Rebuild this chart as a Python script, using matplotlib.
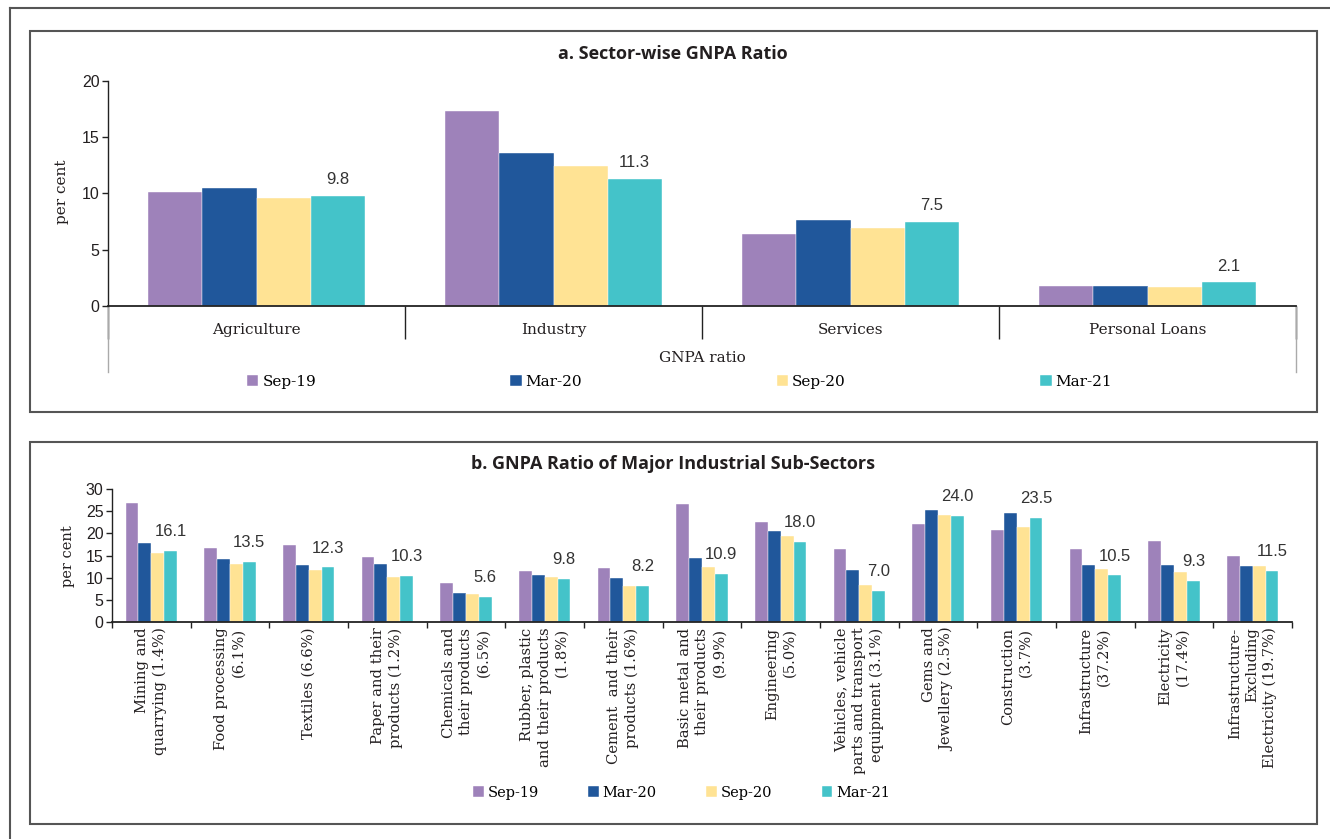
# =========================
# IMPORTS
# =========================
import numpy as np
import matplotlib
matplotlib.use("Agg")
import matplotlib.pyplot as plt
from matplotlib.lines import Line2D
from matplotlib.patches import Rectangle

# =========================
# DATA
# =========================
periods = ["Sep-19", "Mar-20", "Sep-20", "Mar-21"]
colors = ["#9E82BA", "#20579B", "#FFE394", "#44C3C9"]

sectors = ["Agriculture", "Industry", "Services", "Personal Loans"]
sector_sep19 = [10.1, 17.3, 6.4, 1.8]
sector_mar20 = [10.5, 13.6, 7.6, 1.8]
sector_sep20 = [9.6, 12.4, 6.9, 1.7]
sector_mar21 = [9.8, 11.3, 7.5, 2.1]

industries = [
    "Mining and\nquarrying (1.4%)",
    "Food processing\n(6.1%)",
    "Textiles (6.6%)",
    "Paper and their\nproducts (1.2%)",
    "Chemicals and\ntheir products\n(6.5%)",
    "Rubber, plastic\nand their products\n(1.8%)",
    "Cement  and their\nproducts (1.6%)",
    "Basic metal and\ntheir products\n(9.9%)",
    "Engineering\n(5.0%)",
    "Vehicles, vehicle\nparts and transport\nequipment (3.1%)",
    "Gems and\nJewellery (2.5%)",
    "Construction\n(3.7%)",
    "Infrastructure\n(37.2%)",
    "Electricity\n(17.4%)",
    "Infrastructure-\nExcluding\nElectricity (19.7%)",
]
ind_sep19 = [26.9, 16.7, 17.4, 14.6, 8.7, 11.5, 12.1, 26.6, 22.6, 16.4, 22.0, 20.7, 16.5, 18.2, 14.9]
ind_mar20 = [17.8, 14.3, 12.9, 13.1, 6.5, 10.5, 10.0, 14.5, 20.6, 11.8, 25.3, 24.6, 12.8, 12.9, 12.6]
ind_sep20 = [15.6, 13.1, 11.8, 10.1, 6.4, 10.2, 8.2, 12.5, 19.3, 8.3, 24.1, 21.5, 12.0, 11.2, 12.7]
ind_mar21 = [16.1, 13.5, 12.3, 10.3, 5.6, 9.8, 8.2, 10.9, 18.0, 7.0, 24.0, 23.5, 10.5, 9.3, 11.5]

SERIF = "DejaVu Serif"
SANS = "Liberation Sans"
TXT = "#231F20"

W, H = 1330, 839
fig = plt.figure(figsize=(W / 100, H / 100), dpi=100)


def px_box(x0, y0, x1, y1):
    # pixel box (top-left origin) -> figure fraction [l, b, w, h]
    return [x0 / W, 1 - y1 / H, (x1 - x0) / W, (y1 - y0) / H]


# =========================
# FRAMES
# =========================
fig.add_artist(Line2D([10 / W, 10 / W], [0, 1 - 8 / H], color="#555555", lw=1.5))
fig.add_artist(Line2D([10 / W, 1], [1 - 8 / H, 1 - 8 / H], color="#555555", lw=1.5))
for (x0, y0, x1, y1) in [(30, 31, 1317, 412), (30, 442, 1317, 824)]:
    l, b, w, h = px_box(x0, y0, x1, y1)
    fig.add_artist(Rectangle((l, b), w, h, transform=fig.transFigure,
                             fill=False, ec="#555555", lw=1.5))


def draw_bars(ax, series, width):
    x = np.arange(len(series[0]))
    bars = []
    for i, (vals, c) in enumerate(zip(series, colors)):
        b = ax.bar(x + (i - 1.5) * width, vals, width, color=c, label=periods[i],
                   edgecolor="white", linewidth=0.3)
        bars.append(b)
    return x, bars


def style_axes(ax):
    for s in ["top", "right"]:
        ax.spines[s].set_visible(False)
    ax.spines["left"].set_color("#222222")
    ax.spines["bottom"].set_color("#222222")
    ax.spines["left"].set_linewidth(1.0)
    ax.spines["bottom"].set_linewidth(1.3)
    ax.tick_params(axis="y", direction="out", length=4, width=1, color="#222222",
                   labelcolor=TXT, pad=2)
    for t in ax.get_yticklabels():
        t.set_fontfamily(SANS)
        t.set_fontsize(11.5)


# =========================
# PANEL A
# =========================
ax1 = fig.add_axes(px_box(108, 81, 1296, 306))
x1, bars1 = draw_bars(ax1, [sector_sep19, sector_mar20, sector_sep20, sector_mar21], 0.182)
ax1.set_xlim(-0.5, len(sectors) - 0.5)
ax1.set_ylim(0, 20)
ax1.set_yticks([0, 5, 10, 15, 20])
style_axes(ax1)
ax1.set_xticks(x1)
ax1.set_xticklabels(sectors, fontfamily=SERIF, fontsize=11, color=TXT)
ax1.tick_params(axis="x", which="major", length=0, pad=12)
ax1.set_xticks(np.arange(len(sectors) + 1) - 0.5, minor=True)
ax1.tick_params(axis="x", which="minor", length=24, width=1, color="#222222", direction="out")
for xa in [0, 1]:
    ax1.add_line(Line2D([xa, xa], [0, -0.295], transform=ax1.transAxes,
                        color="#aaaaaa", lw=1, clip_on=False))
for xi, v in zip(x1, sector_mar21):
    ax1.annotate(f"{v:.1f}", (xi + 1.5 * 0.182, v), xytext=(0, 11.5),
                 textcoords="offset points", ha="center", va="center",
                 fontfamily=SANS, fontsize=12, color="#333333")
fig.text(673 / W, 1 - 54 / H, "a. Sector-wise GNPA Ratio", ha="center", va="center",
         fontfamily="Open Sans", fontweight="bold", fontsize=13, color=TXT)
fig.text(62 / W, 1 - 192 / H, "per cent", rotation=90, ha="center", va="center",
         fontfamily=SERIF, fontsize=11, color=TXT)
fig.text(702 / W, 1 - 358 / H, "GNPA ratio", ha="center", va="center",
         fontfamily=SERIF, fontsize=11, color=TXT)
fig.legend(handles=bars1, labels=periods, loc="center left", ncol=4, mode="expand",
           bbox_to_anchor=(247 / W, 1 - 382 / H, (1112 - 247) / W, 0.001),
           frameon=False, borderpad=0, borderaxespad=0, handlelength=0.75,
           handleheight=0.75, handletextpad=0.25,
           prop={"family": SERIF, "size": 11})

# =========================
# PANEL B
# =========================
ax2 = fig.add_axes(px_box(112, 489, 1292, 622))
x2, bars2 = draw_bars(ax2, [ind_sep19, ind_mar20, ind_sep20, ind_mar21], 0.164)
ax2.set_xlim(-0.5, len(industries) - 0.5)
ax2.set_ylim(0, 30)
ax2.set_yticks([0, 5, 10, 15, 20, 25, 30])
style_axes(ax2)
ax2.set_xticks(x2)
ax2.set_xticklabels(industries, rotation=90, multialignment="right", linespacing=1.3,
                    fontfamily=SERIF, fontsize=10.6, color=TXT)
ax2.tick_params(axis="x", which="major", length=0, pad=4)
ax2.set_xticks(np.arange(len(industries) + 1) - 0.5, minor=True)
ax2.tick_params(axis="x", which="minor", length=4.5, width=1, color="#222222", direction="out")
for xi, v in zip(x2, ind_mar21):
    ax2.annotate(f"{v:.1f}", (xi + 1.5 * 0.164, v), xytext=(0, 14),
                 textcoords="offset points", ha="center", va="center",
                 fontfamily=SANS, fontsize=12, color="#333333")
fig.text(673 / W, 1 - 464 / H, "b. GNPA Ratio of Major Industrial Sub-Sectors",
         ha="center", va="center", fontfamily="Open Sans", fontweight="bold",
         fontsize=13, color=TXT)
fig.text(68 / W, 1 - 556 / H, "per cent", rotation=90, ha="center", va="center",
         fontfamily=SERIF, fontsize=10.5, color=TXT)
fig.legend(handles=bars2, labels=periods, loc="center left", ncol=4, mode="expand",
           bbox_to_anchor=(473 / W, 1 - 793 / H, (890 - 473) / W, 0.001),
           frameon=False, borderpad=0, borderaxespad=0, handlelength=0.75,
           handleheight=0.75, handletextpad=0.25,
           prop={"family": SERIF, "size": 10.5})

fig.savefig("out.png", dpi=100)
print("saved out.png")
